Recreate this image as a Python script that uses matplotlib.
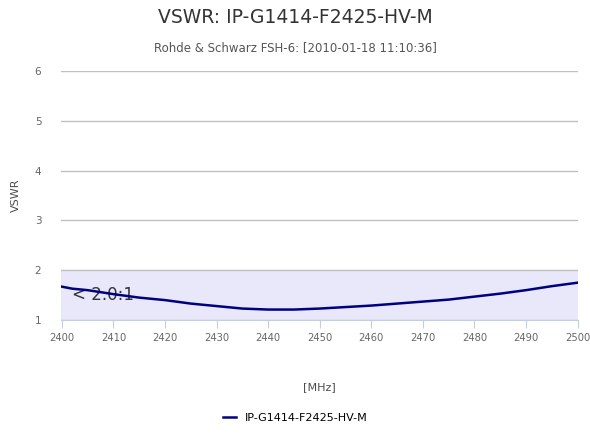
import numpy as np
import matplotlib.pyplot as plt

# VSWR sweep
freq = [2400, 2402, 2405, 2410, 2415, 2420, 2425, 2430, 2435, 2440, 2445,
        2450, 2455, 2460, 2465, 2470, 2475, 2480, 2485, 2490, 2495, 2500]
vswr = [1.67, 1.63, 1.60, 1.52, 1.45, 1.40, 1.33, 1.28, 1.23, 1.21, 1.21,
        1.23, 1.26, 1.29, 1.33, 1.37, 1.41, 1.47, 1.53, 1.60, 1.68, 1.75]
series_name = "IP-G1414-F2425-HV-M"
band = (1, 2)
band_label = "< 2.0:1"
yticks = [1, 2, 3, 4, 5, 6]
xticks = list(range(2400, 2501, 10))

fig = plt.figure(figsize=(5.9, 4.42), dpi=100)
ax = fig.add_axes([0.103, 0.276, 0.876, 0.563])

ax.axhspan(band[0], band[1], color="#e8e8fa", zorder=0)
ax.text(2402, 1.5, band_label, fontsize=12, color="#333333", va="center", zorder=1)
ax.plot(freq, vswr, color="#000080", lw=1.8, zorder=3, label=series_name)

ax.set_xlim(2399.8, 2500)
ax.set_ylim(1, 6)
ax.set_yticks(yticks)
ax.set_xticks(xticks)
ax.grid(axis="y", color="#c0c0c0", lw=1)
ax.set_axisbelow(True)
for s in ["top", "right", "left"]:
    ax.spines[s].set_visible(False)
ax.spines["bottom"].set_color("#c0d0e0")
ax.tick_params(axis="y", length=0, labelsize=7.5, labelcolor="#666666", pad=14)
ax.tick_params(axis="x", length=6, color="#c0d0e0", labelsize=7.2, labelcolor="#666666")

ax.set_ylabel("VSWR", fontsize=8, color="#4d4d4d", labelpad=10)
ax.set_xlabel("[MHz]", fontsize=8, color="#4d4d4d", labelpad=28)

fig.text(0.5, 0.96, "VSWR: IP-G1414-F2425-HV-M", ha="center", va="center",
         fontsize=13.5, color="#333333")
fig.text(0.5, 0.893, "Rohde & Schwarz FSH-6: [2010-01-18 11:10:36]", ha="center",
         va="center", fontsize=8.5, color="#555555")

fig.legend(loc="center", bbox_to_anchor=(0.5, 0.055), frameon=False, fontsize=8,
           handlelength=1.2)

fig.savefig("out.png", dpi=100)
